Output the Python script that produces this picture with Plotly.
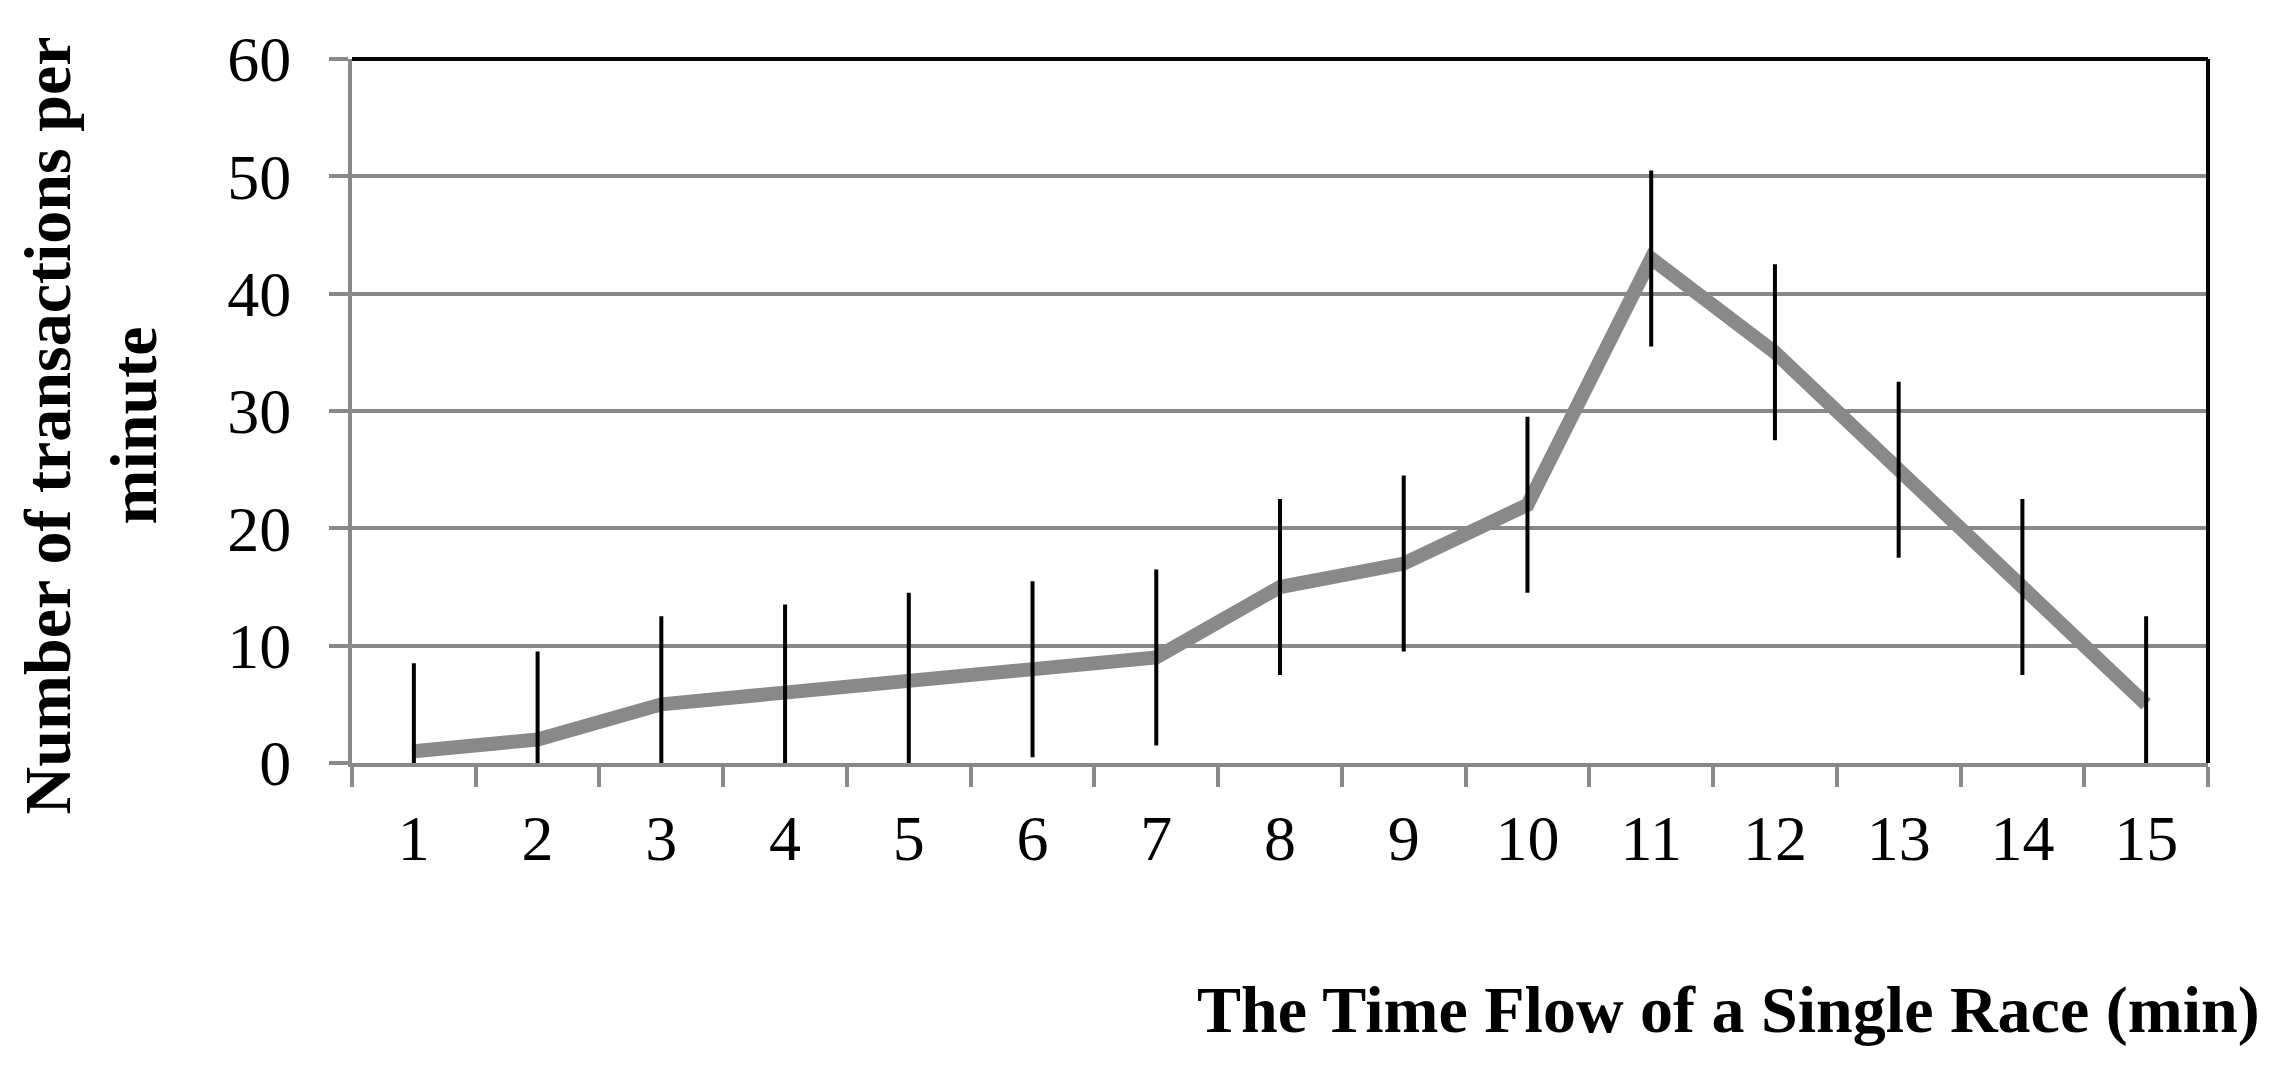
import plotly.graph_objects as go

minutes = [str(i) for i in range(1, 16)]
transactions = [1, 2, 5, 6, 7, 8, 9, 15, 17, 22, 43, 35, 25, 15, 5]
errors = [7.5] * 15
y_ticks = [0, 10, 20, 30, 40, 50, 60]

FONT = "Liberation Serif"
GRAY = "#898989"

fig = go.Figure()
fig.add_trace(go.Scatter(
    x=minutes, y=transactions, mode="lines",
    line=dict(color=GRAY, width=14), showlegend=False,
))
fig.add_trace(go.Scatter(
    x=minutes, y=transactions, mode="markers",
    marker=dict(size=0.1, color="rgba(0,0,0,0)"),
    error_y=dict(type="data", array=errors, visible=True,
                 color="black", thickness=4, width=0),
    showlegend=False,
))

# the page body adds an 8px offset, so margins are shifted to compensate
fig.update_layout(
    template="none",
    width=2294, height=1068,
    margin=dict(l=344, r=94, t=51, b=313),
    paper_bgcolor="white", plot_bgcolor="white",
    font=dict(family=FONT, color="black", size=64),
    xaxis=dict(
        type="category", tickson="boundaries", ticks="outside",
        range=[-0.5, 14.5], automargin=False,
        ticklen=20, tickwidth=4, tickcolor=GRAY,
        showline=True, linecolor=GRAY, linewidth=4,
        showgrid=False, ticklabelstandoff=16,
        tickfont=dict(size=64, family=FONT),
    ),
    yaxis=dict(
        range=[0, 60], tickvals=y_ticks, ticks="outside", automargin=False,
        ticklen=19, tickwidth=4, tickcolor=GRAY,
        showline=True, linecolor=GRAY, linewidth=4,
        showgrid=True, gridcolor=GRAY, gridwidth=3.5,
        zeroline=False, ticklabelstandoff=25,
        tickfont=dict(size=64, family=FONT),
    ),
    shapes=[
        dict(type="line", xref="paper", yref="paper", x0=0, x1=1, y0=1, y1=1,
             line=dict(color="black", width=4)),
        dict(type="line", xref="paper", yref="paper", x0=1, x1=1, y0=0, y1=1,
             line=dict(color="black", width=4)),
    ],
    annotations=[
        dict(text="<b>Number of transactions per<br>minute</b>", textangle=-90,
             xref="paper", yref="paper", x=-0.141, y=0.48,
             xanchor="center", yanchor="middle", showarrow=False,
             font=dict(size=66, family=FONT)),
        dict(text="<b>The Time Flow of a Single Race (min)</b>",
             xref="paper", yref="paper", x=1.029, y=-0.351,
             xanchor="right", yanchor="middle", showarrow=False,
             font=dict(size=66, family=FONT)),
    ],
)

fig.write_html("out.html")
